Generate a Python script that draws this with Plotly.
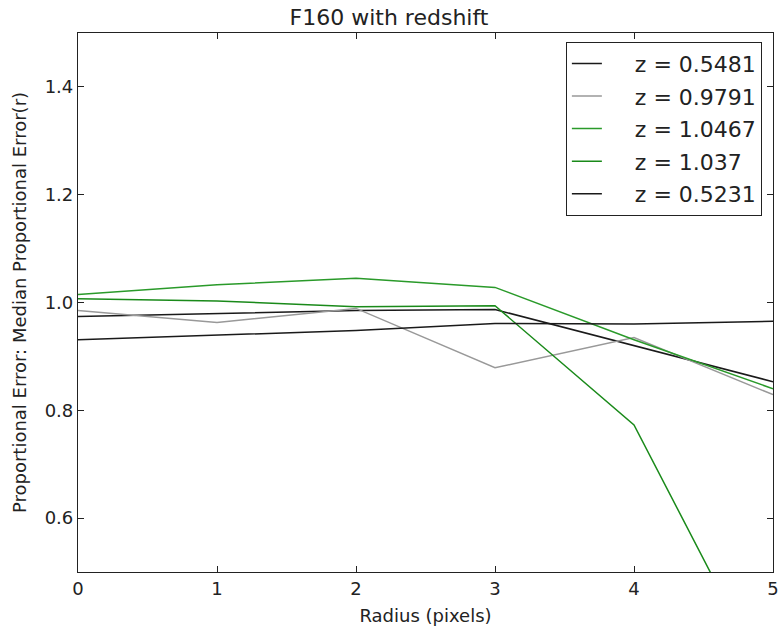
import plotly.graph_objects as go

radius = [0, 1, 2, 3, 4, 5]
labels = ["z = 0.5481", "z = 0.9791", "z = 1.0467", "z = 1.037", "z = 0.5231"]
err_0548 = [0.974, 0.979, 0.985, 0.987, 0.920, 0.853]
err_0979 = [0.985, 0.963, 0.989, 0.879, 0.935, 0.829]
err_1047 = [1.015, 1.033, 1.045, 1.028, 0.931, 0.840]
err_1037 = [1.007, 1.003, 0.992, 0.994, 0.773, 0.275]
err_0523 = [0.931, 0.940, 0.948, 0.961, 0.960, 0.965]

series = [err_0548, err_0979, err_1047, err_1037, err_0523]
colors = ["#1a1a1a", "#999999", "#2a9a2a", "#1a8a1a", "#1a1a1a"]

fig = go.Figure()
for i, (lab, vals, col) in enumerate(zip(labels, series, colors)):
    fig.add_trace(go.Scatter(x=radius, y=vals, mode="lines",
                             name="\u00a0\u00a0\u00a0\u00a0" + lab,
                             legendgroup=f"g{i}",
                             line=dict(color=col, width=1.5)))

font = "DejaVu Sans, Liberation Sans, sans-serif"
axis_common = dict(showline=True, linecolor="#222", linewidth=1.2, mirror="ticks",
                   ticks="inside", ticklen=6, tickcolor="#222", showgrid=False,
                   zeroline=False, automargin=False, ticklabeloverflow="allow",
                   tickfont=dict(size=18, color="#222"))
fig.update_layout(
    width=778, height=631,
    margin=dict(l=78, r=5, t=33, b=59),
    paper_bgcolor="white", plot_bgcolor="white",
    font=dict(family=font, color="#222"),
    title=dict(text="F160 with redshift", x=0.5, xanchor="center", y=1 - 17.5 / 631, yanchor="middle",
               font=dict(size=22)),
    xaxis=dict(range=[0, 5], tickvals=[0, 1, 2, 3, 4, 5],
               title=dict(text="Radius (pixels)", font=dict(size=18), standoff=11), **axis_common),
    yaxis=dict(range=[0.5, 1.5], tickvals=[0.6, 0.8, 1.0, 1.2, 1.4], tickformat=".1f",
               title=dict(text="Proportional Error: Median Proportional Error(r)", font=dict(size=18), standoff=13),
               **axis_common),
    legend=dict(x=0.984, y=0.984, xanchor="right", yanchor="top",
                bgcolor="white", bordercolor="#222", borderwidth=1,
                font=dict(size=22), tracegroupgap=1, itemwidth=30),
)

fig.write_html("out.html", config={"displayModeBar": False},
               post_script="document.body.style.margin='0';")
